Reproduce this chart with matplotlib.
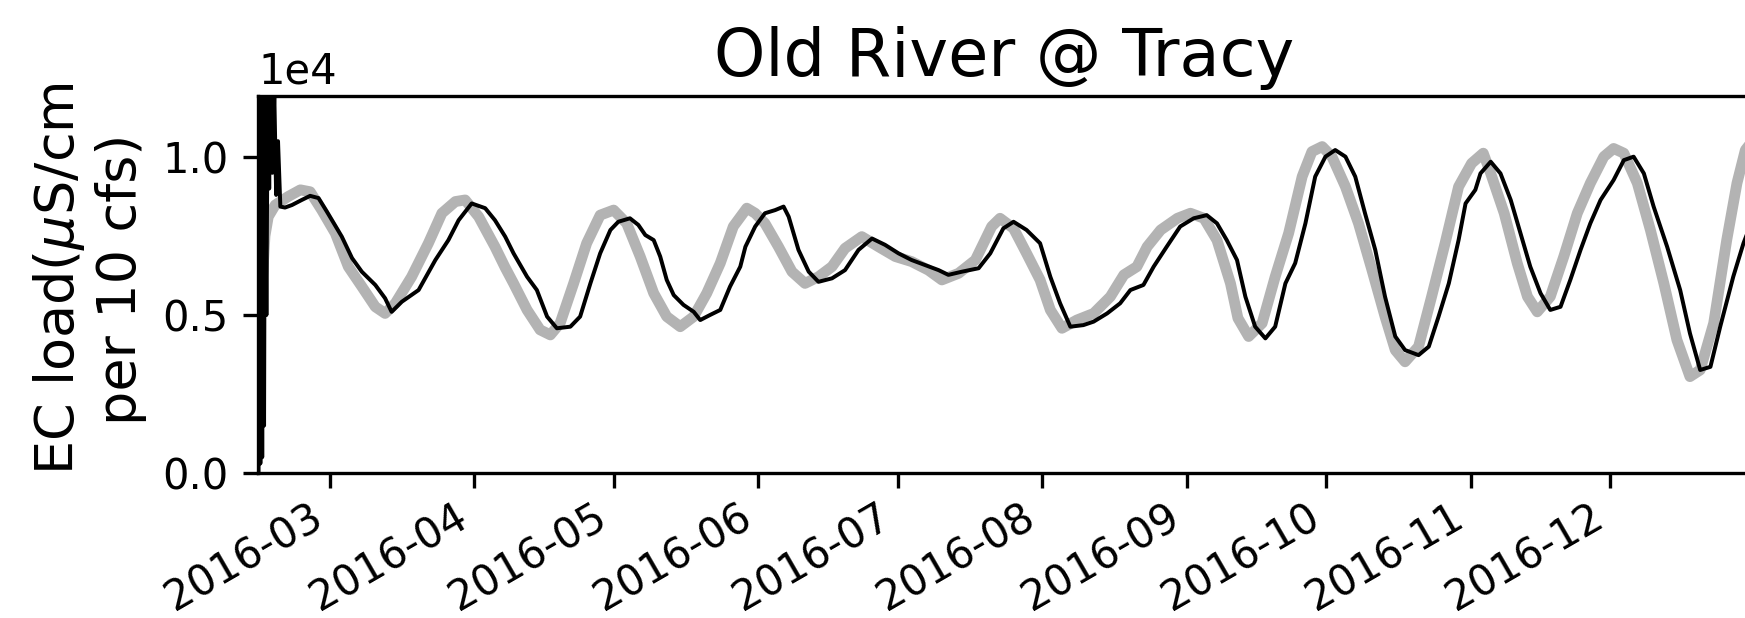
import numpy as np
import pandas as pd
import matplotlib
matplotlib.use("Agg")
import matplotlib.pyplot as plt
import matplotlib.dates as mdates
from matplotlib.ticker import MultipleLocator

START = pd.Timestamp("2016-03-01")

# gray (smooth) series: days after 2016-03-01 and EC load
model_days = [-15.3, -14.8, -14.0, -13.3, -11.8, -9.0, -6.4, -4.3, -1.8, 1.1,
              3.9, 6.8, 9.7, 11.8, 14.0, 17.5, 21.1, 24.0, 26.9, 29.0,
              31.9, 35.4, 37.6, 39.4, 42.3, 45.1, 47.3, 49.4, 52.3, 55.1,
              58.0, 60.9, 63.7, 66.6, 69.5, 72.3, 75.2, 78.1, 80.9, 83.8,
              86.6, 89.5, 91.3, 93.4, 96.3, 99.2, 102.0, 104.9, 107.8, 110.6,
              114.2, 117.8, 121.4, 124.9, 128.5, 131.4, 135.0, 138.6, 142.1, 143.9,
              146.8, 149.6, 152.5, 154.7, 157.2, 160.4, 164.0, 167.6, 170.5, 173.3,
              175.5, 178.4, 182.0, 184.8, 187.7, 190.5, 193.4, 195.0, 197.3, 200.2,
              203.0, 205.9, 208.8, 210.9, 213.1, 215.2, 218.1, 220.9, 223.8, 226.6,
              228.8, 230.9, 233.8, 236.6, 239.5, 242.4, 245.2, 247.7, 249.3, 252.2,
              255.0, 257.2, 259.3, 262.1, 265.0, 267.9, 270.7, 273.6, 275.7, 277.9,
              280.8, 283.6, 286.5, 289.3, 292.1, 294.3, 297.2, 300.0, 302.2, 304.0,
              305.5]
model_load = [4500, 5500, 7500, 8110, 8480, 8750, 8960, 8900, 8320, 7590,
              6530, 5900, 5260, 5050, 5370, 6210, 7270, 8220, 8590, 8640,
              8110, 7160, 6500, 6000, 5160, 4530, 4370, 4740, 6000, 7270,
              8160, 8320, 7900, 6850, 5690, 4950, 4630, 4950, 5690, 6640,
              7800, 8380, 8220, 7900, 7160, 6370, 6000, 6210, 6530, 7110,
              7480, 7160, 6850, 6690, 6420, 6110, 6320, 6740, 7800, 8060,
              7740, 6950, 6110, 5160, 4580, 4840, 5050, 5580, 6270, 6530,
              7160, 7690, 8060, 8220, 8060, 7370, 6000, 4900, 4320, 4740,
              6210, 7590, 9380, 10170, 10330, 10010, 9060, 7900, 6420, 4950,
              3890, 3520, 4000, 5580, 7270, 9060, 9800, 10120, 9480, 8220,
              6640, 5580, 5100, 5580, 6850, 8220, 9170, 10010, 10270, 10120,
              9170, 7690, 6000, 4210, 3050, 3260, 4740, 7370, 9170, 10220,
              10500]

# black (noisy) series
obs_days = [-15.4, -15.2, -15.0, -14.8, -14.6, -14.4, -14.2, -14.0, -13.7, -13.4,
            -13.1, -12.8, -12.4, -12.0, -11.6, -11.2, -10.7, -9.7, -8.2, -6.1,
            -4.3, -2.5, -0.7, 2.5, 4.7, 6.8, 9.7, 11.8, 13.2, 15.4,
            19.0, 22.6, 25.4, 27.6, 30.4, 33.3, 35.4, 36.5, 37.6, 39.4,
            42.3, 44.4, 46.6, 48.7, 51.6, 53.7, 55.9, 58.0, 60.2, 61.9,
            64.4, 66.2, 67.7, 69.5, 70.9, 72.3, 73.8, 75.9, 78.1, 79.5,
            81.6, 83.8, 85.9, 88.1, 89.2, 91.3, 93.4, 95.6, 97.4, 98.5,
            100.6, 102.8, 104.9, 107.8, 110.6, 113.5, 116.4, 119.2, 122.1, 124.9,
            127.8, 130.7, 132.8, 135.7, 139.3, 141.8, 144.6, 146.8, 149.6, 152.5,
            154.7, 156.8, 159.0, 161.8, 164.0, 166.9, 169.7, 171.9, 174.7, 176.9,
            179.7, 182.6, 185.5, 188.3, 190.5, 192.6, 194.8, 196.6, 198.7, 200.9,
            203.0, 205.2, 207.3, 209.5, 211.6, 213.8, 215.9, 218.1, 220.2, 222.3,
            224.5, 226.6, 228.8, 230.9, 233.8, 236.0, 238.1, 240.3, 242.4, 243.9,
            246.0, 247.1, 249.3, 251.4, 253.6, 255.7, 257.8, 260.0, 262.1, 264.3,
            266.4, 268.6, 270.7, 272.9, 275.7, 277.9, 280.0, 282.2, 284.3, 287.2,
            290.0, 292.1, 294.3, 296.5, 298.6, 301.4, 303.6, 305.5]
obs_load = [0, 12500, 300, 13000, 500, 12200, 1500, 12800, 5000, 12500,
            9000, 13000, 9500, 12000, 8800, 10500, 8430, 8400, 8480, 8640,
            8770, 8700, 8270, 7480, 6800, 6370, 5950, 5530, 5100, 5420,
            5790, 6740, 7370, 8000, 8530, 8380, 8000, 7740, 7480, 6950,
            6210, 5790, 4950, 4580, 4630, 4950, 6000, 6950, 7690, 7950,
            8060, 7850, 7530, 7370, 6850, 6110, 5630, 5320, 5100, 4840,
            5000, 5160, 5900, 6530, 7160, 7800, 8220, 8320, 8430, 8110,
            7060, 6370, 6050, 6160, 6420, 7060, 7420, 7220, 6950, 6740,
            6580, 6420, 6270, 6370, 6480, 6950, 7740, 7950, 7690, 7270,
            6210, 5370, 4630, 4680, 4790, 5050, 5370, 5790, 5950, 6530,
            7160, 7800, 8060, 8160, 7900, 7370, 6740, 5580, 4630, 4260,
            4630, 6000, 6640, 7900, 9380, 10010, 10220, 10010, 9380, 8220,
            7060, 5580, 4320, 3890, 3730, 4000, 4950, 6000, 7370, 8530,
            8960, 9480, 9850, 9480, 8640, 7590, 6530, 5690, 5160, 5260,
            6110, 7060, 7900, 8640, 9270, 9900, 10010, 9480, 8430, 7160,
            5790, 4420, 3260, 3360, 4630, 6210, 7270, 8000]


def to_dates(days):
    return START + pd.to_timedelta(np.array(days), unit="D")


fig = plt.figure(figsize=(1745 / 300, 618 / 300), dpi=300)
ax = fig.add_axes([258 / 1745, 145 / 618, 1492 / 1745, 377 / 618])

ax.plot(to_dates(model_days), model_load, color="0.7", lw=2.6)
ax.plot(to_dates(obs_days), obs_load, color="black", lw=0.95)

ax.set_xlim(pd.Timestamp("2016-02-14 12:00"), pd.Timestamp("2016-12-31"))
ax.set_ylim(0, 11930)
ax.yaxis.set_major_locator(MultipleLocator(5000))
ax.ticklabel_format(axis="y", style="sci", scilimits=(0, 0))
ax.xaxis.set_major_locator(mdates.MonthLocator())
ax.xaxis.set_major_formatter(mdates.DateFormatter("%Y-%m"))
ax.tick_params(axis="x", pad=2.0)
for lab in ax.get_xticklabels():
    lab.set_rotation(30)
    lab.set_ha("right")

ax.set_title("Old River @ Tracy", fontsize=15.7, pad=4.8)
ax.set_ylabel("EC load($\\mu$S/cm\nper 10 cfs)", fontsize=13.0)
ax.yaxis.set_label_coords(-0.0744, 0.515)

fig.savefig("out.png", dpi=300)
